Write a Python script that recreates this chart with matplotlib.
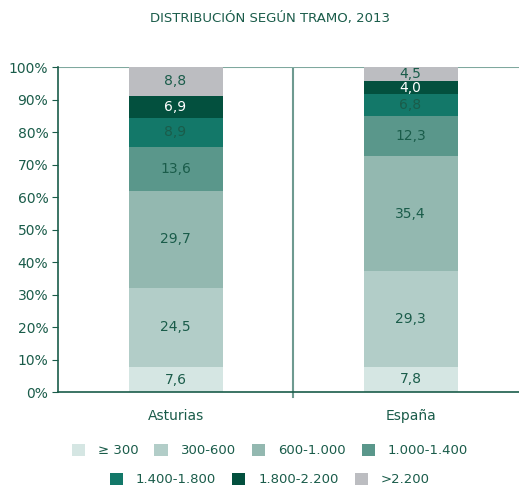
import matplotlib.pyplot as plt
from matplotlib.patches import Patch

# data
regions = ["Asturias", "España"]
tramos = ["≥ 300", "300-600", "600-1.000", "1.000-1.400",
          "1.400-1.800", "1.800-2.200", ">2.200"]
asturias = [7.6, 24.5, 29.7, 13.6, 8.9, 6.9, 8.8]
espana = [7.8, 29.3, 35.4, 12.3, 6.8, 4.0, 4.5]

colors = ["#d5e6e3", "#b2cdc8", "#93b8b0", "#5a978b",
          "#137869", "#03503e", "#bcbdc1"]
label_colors = ["#1a5c4a"] * 5 + ["white", "#1a5c4a"]
txt = "#1a5c4a"

fig = plt.figure(figsize=(5.19, 4.88), dpi=100)
ax = fig.add_axes([0.1118, 0.1967, 0.9056, 0.666])

values = [asturias, espana]
for i, vals in enumerate(values):
    bottom = 0
    for j, v in enumerate(vals):
        ax.bar(i, v, bottom=bottom, width=0.4, color=colors[j],
               edgecolor="none", zorder=2)
        ax.text(i, bottom + v / 2, f"{v:.1f}".replace(".", ","),
                ha="center", va="center", fontsize=10,
                color=label_colors[j], zorder=3)
        bottom += v

ax.set_xlim(-0.5, 1.5)
ax.set_ylim(0, 100)
ax.set_yticks(range(0, 101, 10))
ax.set_yticklabels([f"{t}%" for t in range(0, 101, 10)])
ax.set_xticks([0, 1])
ax.set_xticklabels(regions)
ax.tick_params(axis="x", length=0, pad=12, labelsize=10, labelcolor=txt)
ax.tick_params(axis="y", direction="out", length=4, color=txt,
               labelsize=10, labelcolor=txt, pad=3)

# separator between the two regions, with a little tick under the axis
ax.axvline(0.5, color="#6e9a90", lw=1.5, zorder=1)
ax.plot([0.5, 0.5], [0, -1.5], color="#6e9a90", lw=1.5, clip_on=False)
ax.axhline(100, color="#7fa89e", lw=1.5, zorder=1)

for s in ["top", "right"]:
    ax.spines[s].set_visible(False)
for s in ["left", "bottom"]:
    ax.spines[s].set_color(txt)
    ax.spines[s].set_linewidth(1.2)

fig.suptitle("DISTRIBUCIÓN SEGÚN TRAMO, 2013", x=0.52, y=0.975,
             fontsize=9.5, color=txt, fontweight="medium")

handles = [Patch(facecolor=c, edgecolor="none") for c in colors]
leg_kw = dict(frameon=False, fontsize=9.5, labelcolor=txt, handlelength=1.0,
              handleheight=1.0, handletextpad=1.0, columnspacing=1.2)
fig.legend(handles[:4], tramos[:4], ncol=4, loc="center",
           bbox_to_anchor=(0.52, 0.077), **leg_kw)
fig.legend(handles[4:], tramos[4:], ncol=3, loc="center",
           bbox_to_anchor=(0.52, 0.017), **leg_kw)

fig.savefig("out.png", dpi=100)
